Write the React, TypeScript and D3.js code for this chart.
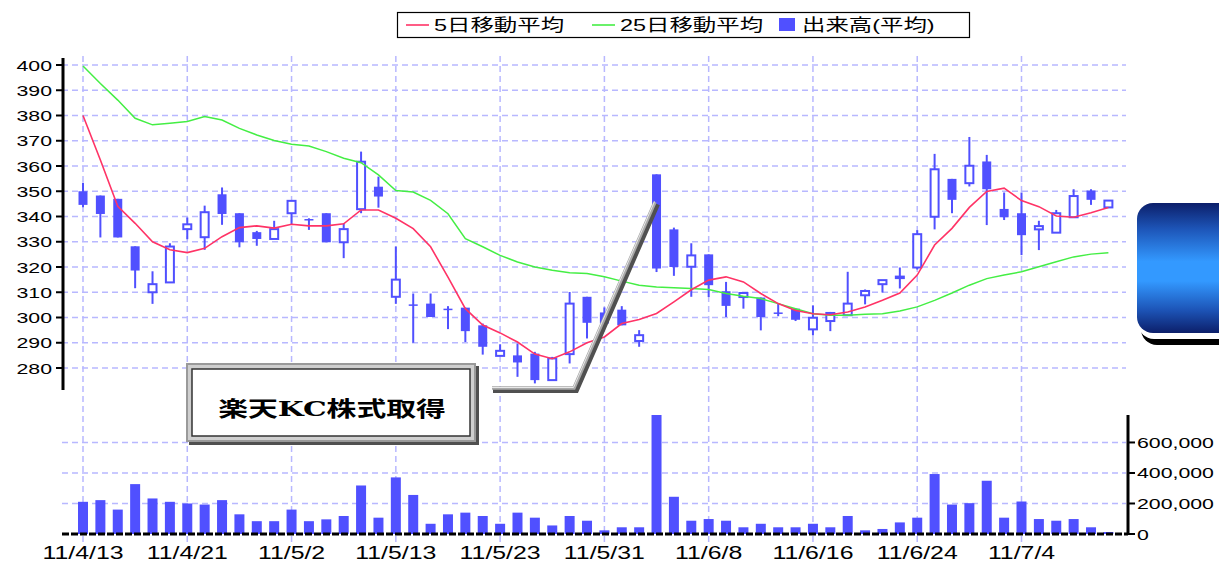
import React from "react";
import * as d3 from "d3";

const dates = ["11/4/13","11/4/14","11/4/15","11/4/18","11/4/19","11/4/20","11/4/21","11/4/22","11/4/25","11/4/26","11/4/27","11/4/28","11/5/2","11/5/6","11/5/9","11/5/10","11/5/11","11/5/12","11/5/13","11/5/16","11/5/17","11/5/18","11/5/19","11/5/20","11/5/23","11/5/24","11/5/25","11/5/26","11/5/27","11/5/30","11/5/31","11/6/1","11/6/2","11/6/3","11/6/6","11/6/7","11/6/8","11/6/9","11/6/10","11/6/13","11/6/14","11/6/15","11/6/16","11/6/17","11/6/20","11/6/21","11/6/22","11/6/23","11/6/24","11/6/27","11/6/28","11/6/29","11/6/30","11/7/1","11/7/4","11/7/5","11/7/6","11/7/7","11/7/8","11/7/11"];

const opens = [350,348.3,347,328.2,310,313.9,335,331.8,348.8,341.3,333.8,331.1,341.3,339,341.3,329.8,342.9,351.8,308.2,305.2,305.5,303.5,303.9,296.9,284.8,285,285.7,275.2,285.5,308.2,302,303.1,290.7,356.7,334.9,320.1,325,310.4,308.1,307.9,302,303.5,295.3,298.6,300.9,308.8,313.2,316,319.8,339.9,354.9,353.2,361.8,343,341.3,334.9,333.6,339.7,350.3,343.6];
const closes = [344.6,341,331.7,318.6,313.2,328.1,336.9,341.7,341,329.8,331.1,335,346.2,338.6,329.8,335,361.7,347.9,315,304.8,300.2,303.1,294.6,288.4,286.8,282.2,275.2,283.8,305.5,297.9,297.6,296.9,293,319.4,320,324.6,312.8,304.6,309.7,300.2,301.7,299.1,299.9,301.8,305.5,310.5,314.8,316.2,333,358.7,346.6,360.1,350.8,339.7,332.6,336.2,341.3,348.1,346.6,346.3];
const highs = [353.4,348.3,347,328.2,318.3,329.4,339.6,344.3,351.5,341.3,334.3,338.3,346.2,339.3,341.3,337.3,365.7,355.8,328.1,309.5,309.5,304.5,303.9,297.6,289.4,289.7,286.4,284.4,310.1,308.2,304,304.5,295,356.7,335.6,329.4,325,314.1,309.7,307.9,305.5,303.5,304.8,302.2,318.1,311.1,314.8,319.8,334.6,364.8,354.9,371.5,364.4,349.5,349.5,338.3,342.6,350.8,350.8,346.3];
const lows = [343.7,331.7,331.7,311.6,305.4,313.9,331,326.8,336.7,327.8,328.4,331.1,336.7,334.7,329.8,323.5,341.3,343.5,305.4,290,300.2,295.4,290.3,285.3,284.8,276.5,273.9,275.2,281.8,291.7,296,296.9,288.4,318,316.5,308.2,308.1,300.2,303.5,294.9,300.5,298.6,292.9,294.6,300.9,305.2,309.9,311.5,319,334.9,341.3,351.9,336.6,338.6,324.7,326.7,333.6,339.7,344.6,343.6];

const ma5 = [380,362.4,344,337.3,330,326.8,325.7,327.4,332,335.6,336.3,335.4,336.9,336.3,336.3,337.1,342.6,342.6,339.3,335.2,328,316,303.5,297,293.9,290.3,285.5,283.7,286.4,290,292.3,297.6,299.2,301.6,306.2,311,314.8,316.1,314.1,309.5,305.5,302.8,301.5,301.1,302.2,304.2,306.8,309.7,316.8,328.7,335.3,343.6,349.9,351.2,346.3,343.9,340.2,339.7,341.5,343.6];
const ma25 = [399.6,392.7,386.1,378.9,376.3,376.9,377.6,379.6,378.2,374.9,372.3,370.1,368.6,367.9,365.7,363.1,361.3,356.5,350.3,349.7,346.4,341.1,331.2,328,324.6,322,320,318.7,317.7,317.4,316.1,314.4,312.8,312.1,311.8,311.5,311.1,309.5,308.4,307.5,305.5,303.5,301.5,300.9,300.9,301.3,301.5,302.6,304.2,306.8,309.7,312.8,315.4,316.8,318.1,320.1,322.1,324,325.1,325.6];

const volumes = [211000,222000,160000,327000,233000,211000,200000,193000,222000,129000,84000,84000,160000,84000,96000,118000,318000,107000,371000,256000,67000,129000,140000,118000,67000,140000,107000,56000,118000,87000,24000,44000,44000,780000,244000,87000,98000,87000,44000,67000,44000,44000,67000,44000,118000,24000,33000,76000,107000,393000,193000,202000,349000,107000,213000,98000,87000,98000,44000,13000];

const priceTicks = [400,390,380,370,360,350,340,330,320,310,300,290,280];
const volTicks = [0,200000,400000,600000];
const dateTickIdx = [0,6,12,18,24,30,36,42,48,54];
const legendLabels = ["5日移動平均","25日移動平均","出来高(平均)"];
const annotation = "楽天KC株式取得";

const W = 1219, H = 562;
const SX = 1.42;
const BLUE = "#5050ff";
const GRID = "#b8b8ff";
const FONT = "'Liberation Sans', Arial, 'Noto Sans CJK JP', sans-serif";

export default function App() {
  const x = d3.scaleLinear().domain([0, dates.length - 1]).range([83, 1108.4]);
  const y = d3.scaleLinear().domain([280, 400]).range([368, 65]);
  const yv = d3.scaleLinear().domain([0, 780000]).range([534, 415]);
  const line5 = d3.line<number>().x((_, i) => x(i)).y((d) => y(d));
  const fmt = d3.format(",");
  const plotL = 62, plotR = 1126;

  const stretchText = (tx: number, ty: number, s: string, anchor: string, size: number, extra: any = {}) => (
    <text transform={`translate(${tx},${ty}) scale(${SX},1)`} textAnchor={anchor} fontSize={size} fontFamily={FONT} fill="#000" {...extra}>{s}</text>
  );

  return (
    <svg width={W} height={H} style={{ position: "absolute", left: 0, top: 0, background: "#fff" }}>
      <defs>
        <linearGradient id="blueGrad" x1="0" y1="0" x2="0" y2="1">
          <stop offset="0" stopColor="#0c1f6a" />
          <stop offset="0.2" stopColor="#1d55b8" />
          <stop offset="0.45" stopColor="#3399ff" />
          <stop offset="0.6" stopColor="#3399ff" />
          <stop offset="0.82" stopColor="#1d55b8" />
          <stop offset="1" stopColor="#0c1f6a" />
        </linearGradient>
      </defs>

      {/* grid: horizontal price */}
      {priceTicks.map((t) => (
        <line key={"hp" + t} x1={plotL} x2={plotR} y1={y(t)} y2={y(t)} stroke={GRID} strokeWidth={1.5} strokeDasharray="6,4" />
      ))}
      {volTicks.filter((t) => t > 0).map((t) => (
        <line key={"hv" + t} x1={plotL} x2={plotR} y1={yv(t)} y2={yv(t)} stroke={GRID} strokeWidth={1.5} strokeDasharray="6,4" />
      ))}
      {dateTickIdx.map((i) => (
        <line key={"vg" + i} x1={x(i)} x2={x(i)} y1={56} y2={545} stroke={GRID} strokeWidth={1.5} strokeDasharray="6,4" />
      ))}

      {/* volume bars */}
      {volumes.map((v, i) => (
        <rect key={"v" + i} x={x(i) - 5} y={yv(v)} width={10} height={yv(0) - yv(v)} fill={BLUE} />
      ))}
      <line x1={plotL} x2={1128} y1={yv(0)} y2={yv(0)} stroke="#000" strokeWidth={3} strokeDasharray="7,2" />

      {/* candles */}
      {dates.map((_, i) => {
        const o = opens[i], c = closes[i];
        const up = c >= o;
        const top = y(Math.max(o, c)), bot = y(Math.min(o, c));
        const h = Math.max(bot - top, 1.5);
        return (
          <g key={"c" + i}>
            <line x1={x(i)} x2={x(i)} y1={y(highs[i])} y2={y(lows[i])} stroke={BLUE} strokeWidth={2} />
            {up ? (
              <rect x={x(i) - 4} y={top} width={8} height={h} fill="#fff" stroke={BLUE} strokeWidth={2} />
            ) : (
              <rect x={x(i) - 4.5} y={top} width={9} height={h} fill={BLUE} />
            )}
          </g>
        );
      })}

      {/* moving averages */}
      <path d={line5(ma25) || ""} fill="none" stroke="#44ee44" strokeWidth={1.5} />
      <path d={line5(ma5) || ""} fill="none" stroke="#ff3366" strokeWidth={1.6} />

      {/* left axis */}
      <line x1={63} x2={63} y1={58} y2={390} stroke="#000" strokeWidth={3} />
      {priceTicks.map((t) => (
        <g key={"pt" + t}>
          <line x1={56} x2={63} y1={y(t)} y2={y(t)} stroke="#000" strokeWidth={2} />
          {stretchText(52, y(t) + 5.5, String(t), "end", 15)}
        </g>
      ))}

      {/* right axis */}
      <line x1={1128} x2={1128} y1={415} y2={535} stroke="#000" strokeWidth={3} />
      {volTicks.map((t) => (
        <g key={"vt" + t}>
          <line x1={1128} x2={1135} y1={yv(t)} y2={yv(t)} stroke="#000" strokeWidth={2} />
          {stretchText(1137, yv(t) + 5.5, fmt(t), "start", 15)}
        </g>
      ))}

      {/* date labels */}
      {dateTickIdx.map((i) => (
        <g key={"dl" + i}>{stretchText(x(i), 558.5, dates[i], "middle", 17.5)}</g>
      ))}

      {/* annotation callout line */}
      <polyline points="493,390 576,390 657,204" fill="none" stroke="#505050" strokeWidth={6} />
      <polyline points="492,388 574,388 655,202" fill="none" stroke="#a8a8a8" strokeWidth={3.5} />
      <polyline points="492,387.5 573.5,387.5 654.5,201.5" fill="none" stroke="#e8e8e8" strokeWidth={1} />

      {/* annotation box */}
      <rect x={189} y={366} width={290} height={79} fill="#505050" />
      <rect x={186} y={363} width={290} height={79} fill="#9a9a9a" />
      <rect x={188} y={365} width={286} height={75} fill="#cfcfcf" />
      <rect x={192} y={369} width={278} height={67} fill="#fff" stroke="#333" strokeWidth={1.5} />
      {stretchText(332, 416, annotation, "middle", 21, { fontWeight: "bold", fontFamily: "'DejaVu Serif', 'Liberation Serif', 'Noto Sans CJK JP', serif" })}

      {/* legend */}
      <rect x={397.5} y={12.5} width={572} height={25} fill="#fff" stroke="#000" strokeWidth={1.2} />
      <line x1={406} x2={429} y1={25} y2={25} stroke="#ff3366" strokeWidth={1.6} />
      {stretchText(434, 31, legendLabels[0], "start", 16.5)}
      <line x1={592} x2={615} y1={25} y2={25} stroke="#44ee44" strokeWidth={1.6} />
      {stretchText(620, 31, legendLabels[1], "start", 16.5)}
      <rect x={779} y={18} width={16} height={13} fill={BLUE} />
      {stretchText(802, 31, legendLabels[2], "start", 16.5)}

      {/* right decoration */}
      <rect x={1141} y={215} width={120} height={130} rx={16} fill="#000" />
      <rect x={1138} y={209} width={120} height={130} rx={16} fill="#fff" />
      <rect x={1137} y={203} width={120} height={130} rx={16} fill="url(#blueGrad)" />
    </svg>
  );
}
